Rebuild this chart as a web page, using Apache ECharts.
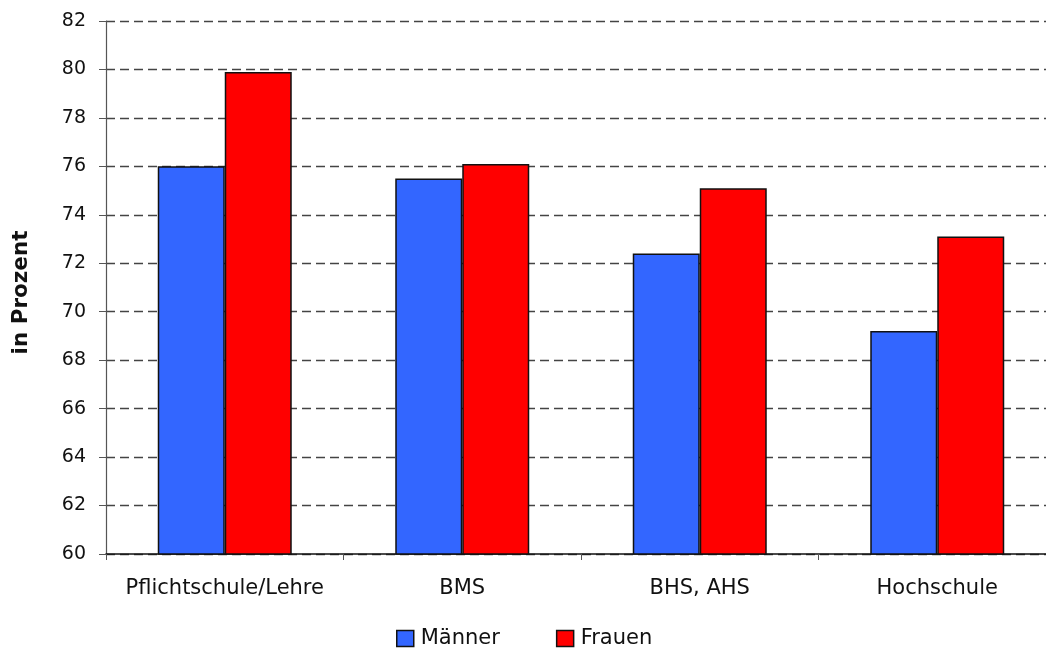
<!DOCTYPE html>
<html>
<head>
<meta charset="utf-8">
<script src="https://cdn.jsdelivr.net/npm/echarts@6/dist/echarts.min.js"></script>
<style>
  html, body { margin: 0; padding: 0; background: #ffffff; }
  #chart { width: 1046px; height: 648px; }
</style>
</head>
<body>
<div id="chart"></div>
<script>
// Education levels and share per gender (percent)
const categories = ['Pflichtschule/Lehre', 'BMS', 'BHS, AHS', 'Hochschule'];
const maenner = [76.0, 75.5, 72.4, 69.2];
const frauen = [79.9, 76.1, 75.1, 73.1];
const seriesNames = ['Männer', 'Frauen'];
const yMin = 60, yMax = 82, yStep = 2;

const FONT = '"DejaVu Sans", "Liberation Sans", Arial, sans-serif';

const chart = echarts.init(document.getElementById('chart'), null, { renderer: 'canvas' });

chart.setOption({
  animation: false,
  backgroundColor: '#ffffff',
  textStyle: { fontFamily: FONT, color: '#111111' },
  // plot area runs slightly past the right edge of the canvas
  grid: {
    left: 106, top: 21, width: 950, height: 533,
    containLabel: false,
    outerBoundsMode: 'none'
  },
  legend: {
    left: 391,
    top: 623,
    itemWidth: 17,
    itemHeight: 16,
    itemGap: 56,
    icon: 'rect',
    textStyle: { fontFamily: FONT, fontSize: 21, color: '#111111', padding: [0, 0, 0, 2] },
    itemStyle: { borderColor: '#111111', borderWidth: 1.5 },
    data: seriesNames
  },
  xAxis: {
    type: 'category',
    data: categories,
    boundaryGap: true,
    axisLine: { lineStyle: { color: '#111111', width: 1.5 } },
    axisTick: { show: true, length: 6, lineStyle: { color: '#555555', width: 1 } },
    axisLabel: { fontFamily: FONT, fontSize: 21, color: '#111111', margin: 24, interval: 0 },
    splitLine: { show: false }
  },
  yAxis: {
    type: 'value',
    min: yMin,
    max: yMax,
    interval: yStep,
    name: 'in Prozent',
    nameLocation: 'middle',
    nameGap: 74,
    nameTextStyle: { fontFamily: FONT, fontSize: 21.5, fontWeight: 'bold', color: '#111111', padding: [0, 10, 0, 0] },
    axisLine: { show: true, lineStyle: { color: '#555555', width: 1.2 } },
    axisTick: { show: true, length: 7, lineStyle: { color: '#555555', width: 1 } },
    axisLabel: { fontFamily: FONT, fontSize: 19, color: '#111111', margin: 20 },
    splitLine: { show: true, lineStyle: { color: '#444444', width: 1.3, type: [9, 5] } }
  },
  series: [
    {
      name: seriesNames[0],
      type: 'bar',
      data: maenner,
      barWidth: 67,
      barGap: '0%',
      itemStyle: { color: '#3366FF', borderColor: '#111111', borderWidth: 1.5 }
    },
    {
      name: seriesNames[1],
      type: 'bar',
      data: frauen,
      barWidth: 67,
      barGap: '0%',
      itemStyle: { color: '#FF0000', borderColor: '#111111', borderWidth: 1.5 }
    }
  ]
});
</script>
</body>
</html>
